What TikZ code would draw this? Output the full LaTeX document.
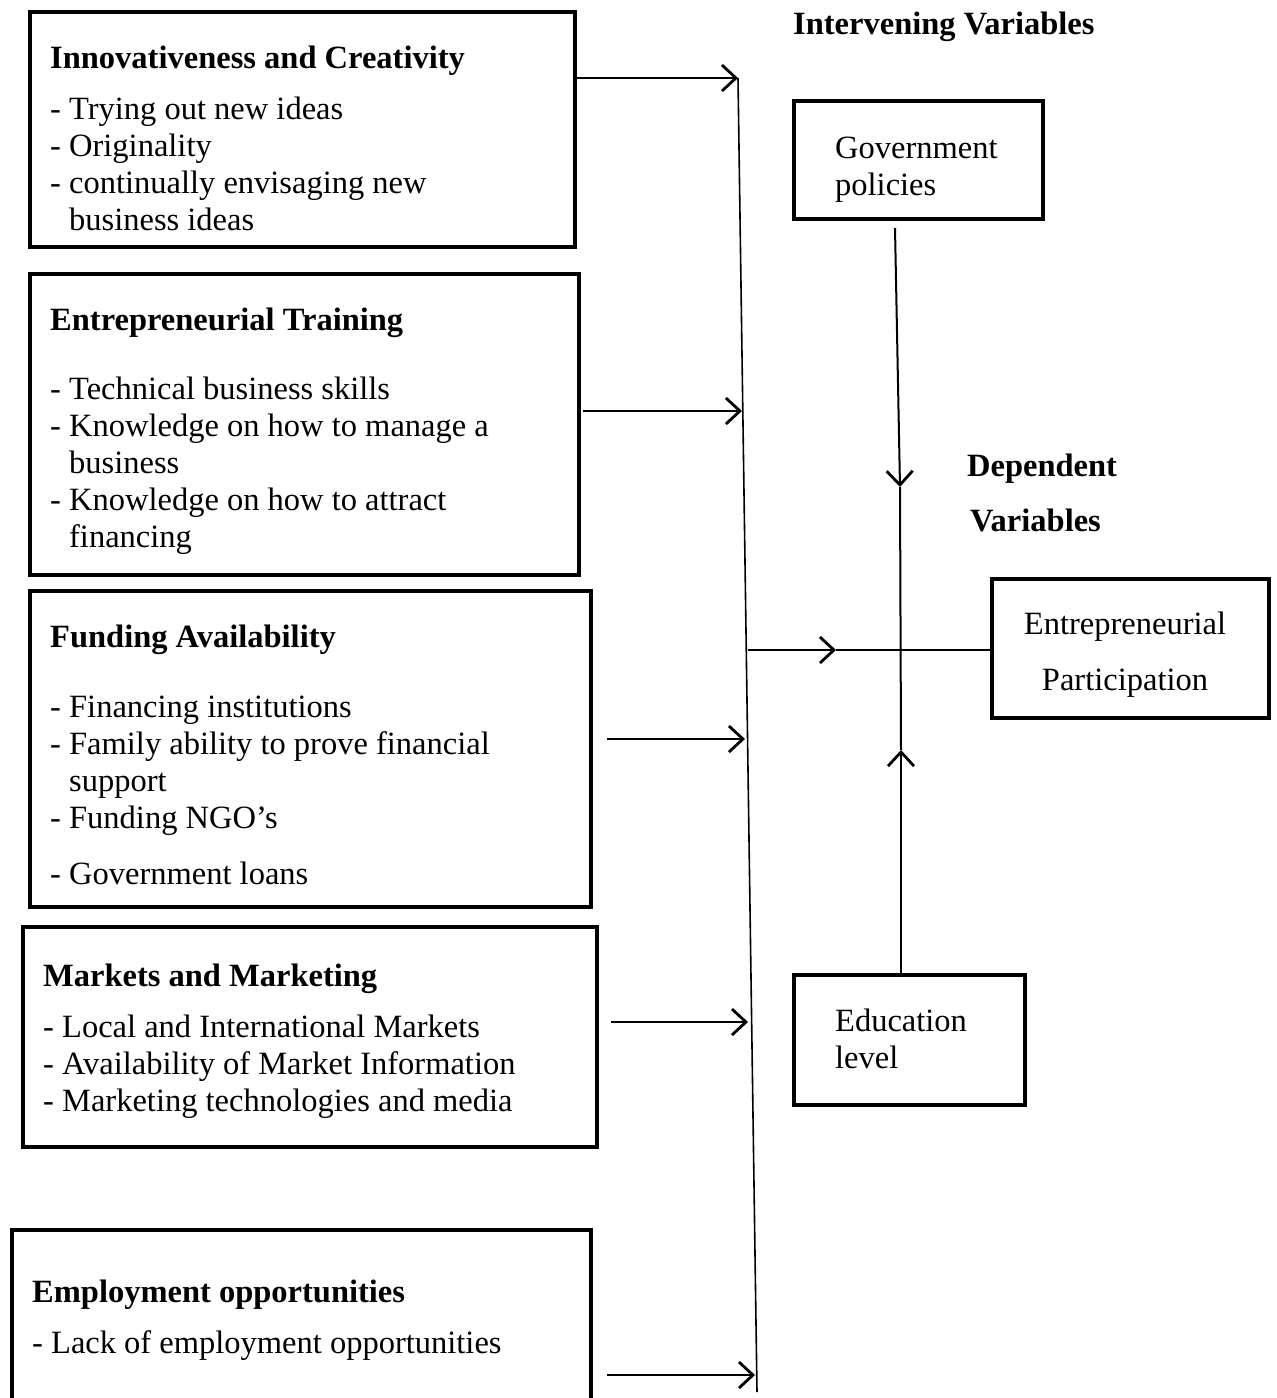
\documentclass[tikz,border=0pt]{standalone}
\usepackage{fontspec}
\setmainfont{Liberation Serif}
\usetikzlibrary{arrows.meta,calc}
\tikzset{
  varbox/.style={draw, line width=4pt, inner sep=0pt, anchor=north west},
  boxtext/.style={anchor=base west, inner sep=0pt, align=left,
                  font=\fontsize{32.5}{37}\selectfont},
  head/.style={anchor=base west, inner sep=0pt,
               font=\fontsize{32.5}{37}\selectfont\bfseries},
  arrow/.style={-{Straight Barb[length=14pt,width=26pt,line width=2.8pt]}, line width=2pt},
  link/.style={line width=2pt},
  bus/.style={line width=1.6pt}
}

\begin{document}
\begin{tikzpicture}[x=1pt,y=-1pt]
  \useasboundingbox (0,0) rectangle (1277,1398);
  \clip (0,0) rectangle (1277,1398);
  \node[varbox, minimum width=545pt, minimum height=235pt] (innov) at (28,10) {};
  \node[varbox, minimum width=549pt, minimum height=301pt] (train) at (28,272) {};
  \node[varbox, minimum width=561pt, minimum height=316pt] (fund) at (28,589) {};
  \node[varbox, minimum width=574pt, minimum height=220pt] (mark) at (21,925) {};
  \node[varbox, minimum width=579pt, minimum height=220pt] (empl) at (10,1228) {};
  \node[varbox, minimum width=249pt, minimum height=118pt] (gov) at (792,99) {};
  \node[varbox, minimum width=231pt, minimum height=130pt] (edu) at (792,973) {};
  \node[varbox, minimum width=277pt, minimum height=139pt] (part) at (990,577) {};
  \node[boxtext] (innovtxt) at (50,230) {\textbf{Innovativeness and Creativity}\\[14pt]- Trying out new ideas\\
    - Originality\\ - continually envisaging new\\ \hphantom{- }business ideas};
  \node[boxtext] (traintxt) at (50,547) {\textbf{Entrepreneurial Training}\\[32pt]- Technical business skills\\
    - Knowledge on how to manage a\\ \hphantom{- }business\\ - Knowledge on how to attract\\ \hphantom{- }financing};
  \node[boxtext] (fundtxt) at (50,884) {\textbf{Funding Availability}\\[33pt]- Financing institutions\\
    - Family ability to prove financial\\ \hphantom{- }support\\ - Funding NGO’s\\[19pt]- Government loans};
  \node[boxtext] (marktxt) at (43,1111) {\textbf{Markets and Marketing}\\[14pt]- Local and International Markets\\
    - Availability of Market Information\\ - Marketing technologies and media};
  \node[boxtext] (empltxt) at (32,1353) {\textbf{Employment opportunities}\\[14pt]- Lack of employment opportunities};
  \node[head] (intervening) at (793,34) {Intervening Variables};
  \node[head] (dependent) at (967,476) {Dependent};
  \node[head] (variables) at (970,531) {Variables};
  \node[boxtext] (govtxt) at (835,195) {Government\\ policies};
  \node[boxtext] (edutxt) at (835,1068) {Education\\ level};
  \node[boxtext, anchor=base, align=center] (parttxt) at (1125,690) {Entrepreneurial\\[19pt]Participation};
  \coordinate (busTop) at (738,78);
  \coordinate (busBot) at (757,1392);
  \coordinate (j1) at (738,78);
  \coordinate (j2) at (742,411);
  \coordinate (j3) at (745,739);
  \coordinate (j4) at (748,1022);
  \coordinate (j5) at (755,1375);
  \coordinate (j6) at (748,650);
  \coordinate (m6) at (836,650);
  \coordinate (gs) at (895,228);
  \coordinate (gm) at (900,487);
  \coordinate (em) at (901,750);
  \draw[bus] (busTop) -- (busBot);
  \foreach \b/\j/\g in {innov/j1/0,train/j2/2,fund/j3/14,mark/j4/12,empl/j5/14}
    \draw[arrow] ($(\b.east |- \j)+(\g,0)$) -- (\j);
  \draw[arrow] (j6) -- (m6);
  \draw[link] (m6) -- (part.west |- m6);
  \draw[arrow] (gs) -- (gm);
  \draw[link] (gm) -- (em);
  \draw[arrow] (em |- edu.north) -- (em);
\end{tikzpicture}
\end{document}
